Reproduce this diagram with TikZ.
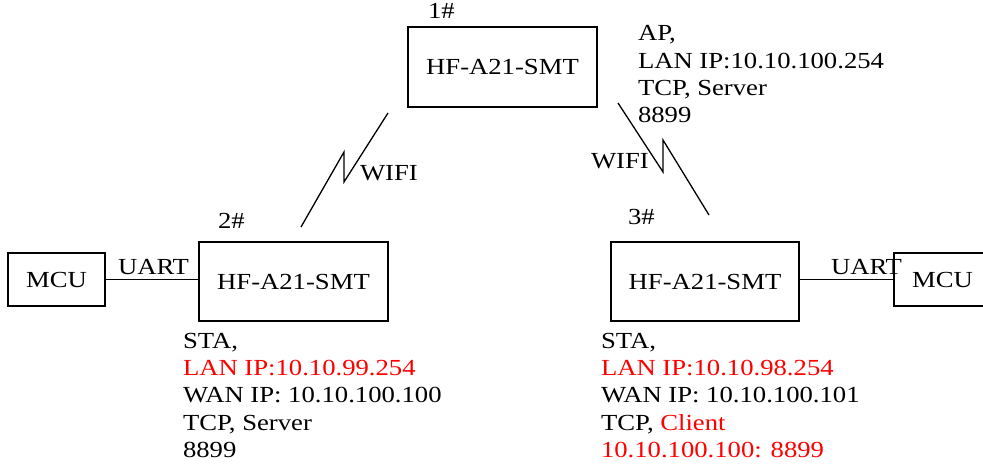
\documentclass[tikz,border=0pt]{standalone}
\usepackage{fontspec}
\setmainfont{Liberation Serif}[FakeStretch=1.16]
\definecolor{lred}{RGB}{255,0,0}
\begin{document}
\begin{tikzpicture}[x=1pt,y=-1pt,
  every node/.style={font=\fontsize{23}{27.3}\selectfont, inner sep=0pt, outer sep=0pt},
  box/.style={draw, line width=1.4pt, rectangle},
  lbl/.style={anchor=base west},
  conn/.style={line width=1.3pt}]
\useasboundingbox (0,0) rectangle (983,465);
% boxes
\node[box, minimum width=189pt, minimum height=80pt] (b1) at (502.5,67) {HF-A21-SMT};
\node[box, minimum width=189pt, minimum height=79pt] (b2) at (293.5,281.5) {HF-A21-SMT};
\node[box, minimum width=188pt, minimum height=79pt] (b3) at (705,281.5) {HF-A21-SMT};
\node[box, minimum width=97pt, minimum height=53pt] (m1) at (56.5,279.5) {MCU};
\node[box, minimum width=97pt, minimum height=53pt] (m2) at (942.5,279.5) {MCU};
% UART connectors
\draw[conn] (m1.east) -- (b2.west |- m1.east);
\draw[conn] (b3.east |- m2.west) -- (m2.west);
% labels
\node[lbl] (n1) at (428,19) {1\#};
\node[lbl] (n2) at (218,229) {2\#};
\node[lbl] (n3) at (628,225) {3\#};
\node[lbl] (u1) at (118,275) {UART};
\node[lbl] (u2) at (831,275) {UART};
\node[lbl] (wf1) at (360,181) {WIFI};
\node[lbl] (wf2) at (591,169) {WIFI};
% AP block
\node[lbl] (ap1) at (638,41) {AP,};
\node[lbl] (ap2) at (638,68.3) {LAN IP:10.10.100.254};
\node[lbl] (ap3) at (638,95.6) {TCP, Server};
\node[lbl] (ap4) at (638,123) {8899};
% STA left
\node[lbl] (sl1) at (183,348) {STA,};
\node[lbl, text=lred] (sl2) at (183,375.3) {LAN IP:10.10.99.254};
\node[lbl] (sl3) at (183,402.6) {WAN IP: 10.10.100.100};
\node[lbl] (sl4) at (183,430) {TCP, Server};
\node[lbl] (sl5) at (183,457.2) {8899};
% STA right
\node[lbl] (sr1) at (601,348) {STA,};
\node[lbl, text=lred] (sr2) at (601,375.3) {LAN IP:10.10.98.254};
\node[lbl] (sr3) at (601,402.6) {WAN IP: 10.10.100.101};
\node[lbl] (sr4) at (601,430) {TCP, \textcolor{lred}{Client}};
\node[lbl, text=lred] (sr5) at (601,457.2) {10.10.100.100: 8899};
% WIFI zigzags
\coordinate (w1a) at (388,113);
\coordinate (w1b) at (344,182);
\coordinate (w1c) at (344,152);
\coordinate (w1d) at (301,227);
\coordinate (w2a) at (618,103);
\coordinate (w2b) at (663,172);
\coordinate (w2c) at (663,140);
\coordinate (w2d) at (709,215);
\draw[conn] (w1a) -- (w1b) -- (w1c) -- (w1d);
\draw[conn] (w2a) -- (w2b) -- (w2c) -- (w2d);
\end{tikzpicture}
\end{document}
